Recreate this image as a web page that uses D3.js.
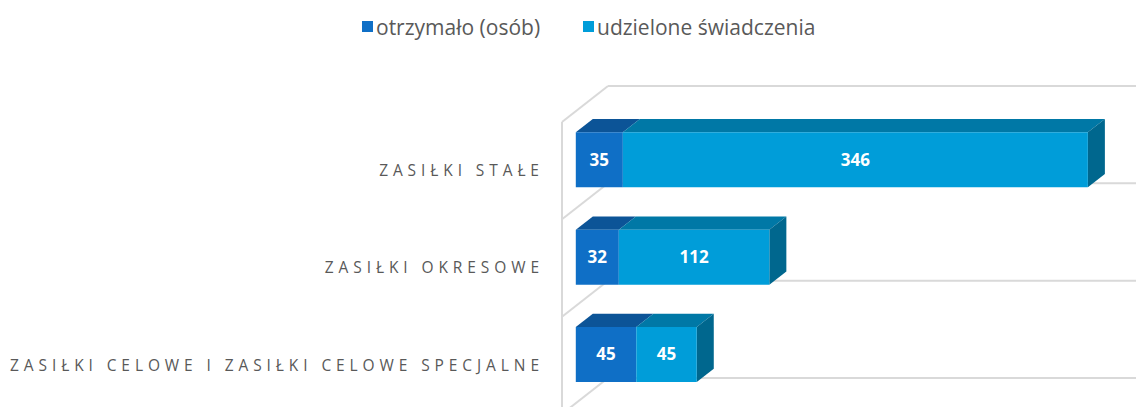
<!DOCTYPE html>
<html>
<head>
<meta charset="utf-8">
<script src="https://cdn.jsdelivr.net/npm/d3@7"></script>
<style>
  body { margin: 0; background: #fff; }
  svg { display: block; }
  text { font-family: "Open Sans", "Noto Sans", sans-serif; }
</style>
</head>
<body>
<svg id="chart"></svg>
<script>
const categories = ["ZASIŁKI STAŁE", "ZASIŁKI OKRESOWE", "ZASIŁKI CELOWE I ZASIŁKI CELOWE SPECJALNE"]
const seriesNames = ["otrzymało (osób)", "udzielone świadczenia"]
const otrzymalo = [35, 32, 45]
const udzielone = [346, 112, 45]

var width = 1136
var height = 407

// colors: front, top, side
var colors = [
	{front: "#0F6FC6", top: "#0C5497", side: "#0A4B86"},
	{front: "#009DD9", top: "#0078A6", side: "#00678E"}
]

// oblique depth vector for the whole plot depth
var depth = {dx: 46, dy: -36}
var barZ = [0.3, 0.67]

var x = d3.scaleLinear()
	.domain([0, 420])
	.range([562, 562 + 420 * 1.344])

var y = d3.scaleBand()
	.domain(categories)
	.range([122, 414])
	.paddingInner(0.435)
	.paddingOuter(0.2175)

function proj(px, py, z) {
	return [px + depth.dx * z, py + depth.dy * z]
}

let svg = d3.select("#chart")
	.attr("width", width)
	.attr("height", height)
	.attr("viewBox", [0, 0, width, height])

// walls / grid
var grid = svg.append("g")
	.attr("stroke", "#D9D9D9")
	.attr("stroke-width", 2)
	.attr("fill", "none")

var step = y.step()
var bounds = d3.range(categories.length + 1).map(i => y.range()[0] + i * step)

grid.append("line")
	.attr("x1", x(0)).attr("y1", bounds[0])
	.attr("x2", x(0)).attr("y2", bounds[bounds.length - 1])

bounds.forEach(b => {
	var back = proj(x(0), b, 1)
	var backEnd = proj(x(420), b, 1)
	grid.append("line")
		.attr("x1", x(0)).attr("y1", b)
		.attr("x2", back[0]).attr("y2", back[1])
	grid.append("line")
		.attr("x1", back[0]).attr("y1", back[1])
		.attr("x2", backEnd[0] + 40).attr("y2", backEnd[1])
})

// bars
var rows = categories.map((c, i) => ({cat: c, vals: [otrzymalo[i], udzielone[i]]}))

var bars = svg.append("g")

rows.forEach(r => {
	var y0 = y(r.cat)
	var y1 = y0 + y.bandwidth()
	var start = 0
	r.vals.forEach((v, s) => {
		var a = start, b = start + v
		start = b
		var fl = proj(x(a), y0, barZ[0]), fr = proj(x(b), y0, barZ[0])
		var bl = proj(x(a), y0, barZ[1]), br = proj(x(b), y0, barZ[1])
		var flb = proj(x(a), y1, barZ[0]), frb = proj(x(b), y1, barZ[0])
		var brb = proj(x(b), y1, barZ[1])
		// top face
		bars.append("path")
			.attr("fill", colors[s].top)
			.attr("d", d3.line()([fl, fr, br, bl]) + "Z")
		// side face, last segment only
		if (s === r.vals.length - 1) {
			bars.append("path")
				.attr("fill", colors[s].side)
				.attr("d", d3.line()([fr, br, brb, frb]) + "Z")
		}
		// front face
		bars.append("path")
			.attr("fill", colors[s].front)
			.attr("d", d3.line()([fl, fr, frb, flb]) + "Z")
		bars.append("text")
			.attr("x", (fl[0] + fr[0]) / 2)
			.attr("y", (fl[1] + flb[1]) / 2)
			.attr("dy", "0.35em")
			.attr("text-anchor", "middle")
			.attr("fill", "#fff")
			.attr("font-weight", "bold")
			.attr("font-size", 17)
			.text(v)
	})
})

// category labels
var catLabels = svg.append("g")
	.selectAll("text")
	.data(categories)
	.join("text")
	.attr("y", d => y(d) + y.bandwidth() / 2)
	.attr("dy", "0.35em")
	.attr("text-anchor", "end")
	.attr("fill", "#595959")
	.attr("font-size", 15.5)
	.text(d => d)

// spread letters so the longest label spans from x=10 to x=539
var longest = catLabels.filter((d, i) => i === 2).node()
var spacing = (529 - longest.getComputedTextLength()) / (categories[2].length - 1)
catLabels
	.attr("letter-spacing", spacing)
	.attr("x", 539 + spacing)

// legend
var legendX = [362, 583]
var legend = svg.append("g")
seriesNames.forEach((n, i) => {
	legend.append("rect")
		.attr("x", legendX[i]).attr("y", 21)
		.attr("width", 11).attr("height", 11)
		.attr("fill", colors[i].front)
	legend.append("text")
		.attr("x", legendX[i] + 14)
		.attr("y", 28)
		.attr("dy", "0.35em")
		.attr("fill", "#595959")
		.attr("font-size", 21)
		.text(n)
})
</script>
</body>
</html>
